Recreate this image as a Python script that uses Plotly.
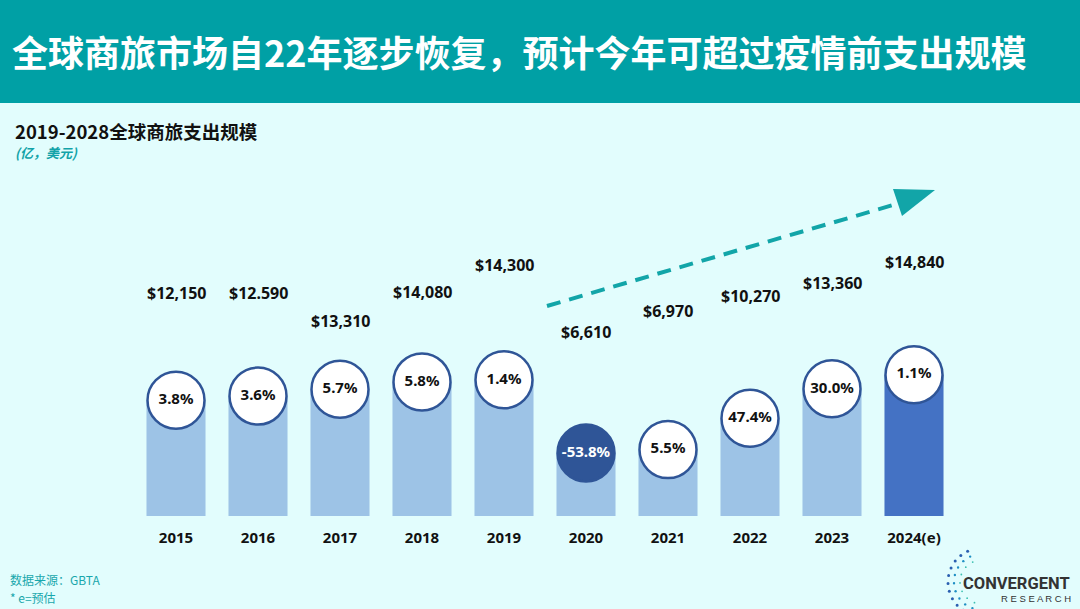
import math
import plotly.graph_objects as go

# data
years = ["2015", "2016", "2017", "2018", "2019", "2020", "2021", "2022", "2023", "2024(e)"]
spend = [12150, 12590, 13310, 14080, 14300, 6610, 6970, 10270, 13360, 14840]
spend_text = ["$12,150", "$12.590", "$13,310", "$14,080", "$14,300",
              "$6,610", "$6,970", "$10,270", "$13,360", "$14,840"]
growth = [3.8, 3.6, 5.7, 5.8, 1.4, -53.8, 5.5, 47.4, 30.0, 1.1]
estimated = [False] * 9 + [True]

# value labels float at uneven heights above the bars (pixels)
label_lift = [107, 103, 68, 90, 115, 121, 139, 122, 106, 113]

W, H = 1080, 609
BG = "#e2fdfd"
TEAL = "#00a0a5"
LIGHT = "#9dc3e6"
MID = "#4472c4"
DARK = "#2f5597"
FONT = "Noto Sans, Noto Sans CJK SC, sans-serif"
CJK = "Noto Sans CJK SC, sans-serif"


def px(x):
    return x / W


def py(y):
    return 1 - y / H


fig = go.Figure()

fig.add_trace(go.Bar(
    x=years, y=spend, width=0.72,
    marker=dict(color=[MID if e else LIGHT for e in estimated], line_width=0),
    hoverinfo="skip",
))

fig.add_trace(go.Scatter(
    x=years, y=spend, mode="markers+text",
    text=[f"{g:.1f}%" for g in growth],
    textposition="middle center",
    textfont=dict(family=FONT, size=15, color=["white" if g < 0 else "#111" for g in growth],
                  weight="bold"),
    marker=dict(size=57, color=[DARK if g < 0 else "white" for g in growth],
                line=dict(color=DARK, width=2.5)),
    hoverinfo="skip", cliponaxis=False,
))

# category index, so "2015" is not read as a number
for i, (v, t, lift) in enumerate(zip(spend, spend_text, label_lift)):
    fig.add_annotation(x=i, y=v, text=f"<b>{t}</b>", showarrow=False,
                       yshift=lift, yanchor="middle",
                       font=dict(family=FONT, size=16, color="#111"))

# header band + titles
fig.add_shape(type="rect", xref="paper", yref="paper", x0=0, x1=1, y0=py(103), y1=1,
              fillcolor=TEAL, line_width=0, layer="below")
fig.add_annotation(xref="paper", yref="paper", x=px(10), y=py(51), xanchor="left", yanchor="middle",
                   text="<b>全球商旅市场自22年逐步恢复，预计今年可超过疫情前支出规模</b>",
                   showarrow=False, font=dict(family=CJK, size=36, color="white"))
fig.add_annotation(xref="paper", yref="paper", x=px(13), y=py(131), xanchor="left", yanchor="middle",
                   text="<b>2019-2028全球商旅支出规模</b>", showarrow=False,
                   font=dict(family=CJK, size=18.5, color="#111"))
fig.add_annotation(xref="paper", yref="paper", x=px(13), y=py(152), xanchor="left", yanchor="middle",
                   text="<b><i>(亿，美元)</i></b>", showarrow=False,
                   font=dict(family=CJK, size=13, color="#12a3a8"))

# dashed trend arrow
fig.add_shape(type="line", xref="paper", yref="paper",
              x0=px(547), y0=py(306), x1=px(900), y1=py(203),
              line=dict(color="#12a5a8", width=4, dash="14px,9px"))
fig.add_shape(type="path", xref="paper", yref="paper",
              path=f"M {px(893)},{py(189)} L {px(935)},{py(190)} L {px(902)},{py(216)} Z",
              fillcolor="#12a5a8", line_width=0)

# footnotes
fig.add_annotation(xref="paper", yref="paper", x=px(8), y=py(579), xanchor="left", yanchor="middle",
                   text="数据来源：GBTA", showarrow=False,
                   font=dict(family=CJK, size=12, color="#19a7ac"))
fig.add_annotation(xref="paper", yref="paper", x=px(8), y=py(597), xanchor="left", yanchor="middle",
                   text="* e=预估", showarrow=False,
                   font=dict(family=CJK, size=12, color="#19a7ac"))

# logo
fig.add_annotation(xref="paper", yref="paper", x=px(1072), y=py(583), xanchor="right", yanchor="middle",
                   text="<b>CONVERGENT</b>", showarrow=False,
                   font=dict(family="Liberation Sans Narrow, Roboto, sans-serif", size=16.5, color="#333"))
fig.add_annotation(xref="paper", yref="paper", x=px(1073), y=py(598), xanchor="right", yanchor="middle",
                   text="R E S E A R C H", showarrow=False,
                   font=dict(family="Liberation Sans, sans-serif", size=9.5, color="#333"))
for ring, (r, n, col) in enumerate([(34, 11, "#2a5fb0"), (28, 9, "#1f8fc4"), (22, 7, "#3cc0b0")]):
    for k in range(n):
        a = math.radians(115 + k * 135 / (n - 1))
        cx, cy = 982 + r * math.cos(a), 582 - r * math.sin(a)
        s = 1.5 - ring * 0.3
        fig.add_shape(type="circle", xref="paper", yref="paper",
                      x0=px(cx - s), x1=px(cx + s), y0=py(cy + s), y1=py(cy - s),
                      fillcolor=col, line_width=0)

fig.update_layout(
    width=W, height=H, autosize=False,
    margin=dict(l=0, r=0, t=0, b=0),
    paper_bgcolor=BG, plot_bgcolor="rgba(0,0,0,0)",
    showlegend=False, bargap=0.28,
    xaxis=dict(domain=[px(135), px(955)], type="category", range=[-0.5, 9.5],
               showgrid=False, zeroline=False, showline=False, ticks="",
               ticklabelstandoff=11,
               tickfont=dict(family=FONT, size=15, color="#111", weight="bold")),
    yaxis=dict(domain=[1 - 516 / H, 1], range=[0, 516 * 105], visible=False),
)

fig.write_html("out.html", config={"displayModeBar": False},
               post_script="document.body.style.margin='0';")
